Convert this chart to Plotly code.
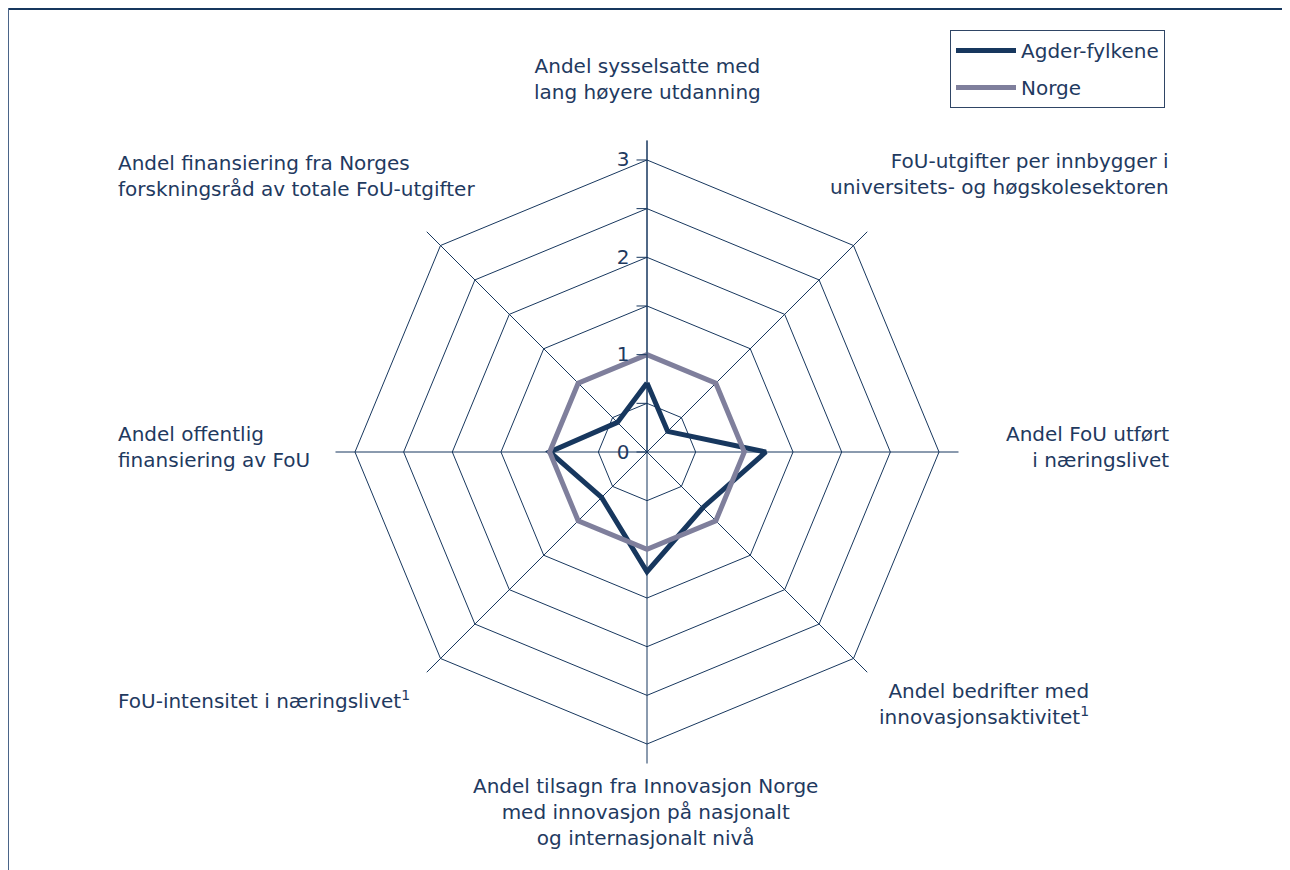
import plotly.graph_objects as go

# Indikatorer (aksene i stjernediagrammet), Norge = 1
categories = [
    "Andel sysselsatte med<br>lang høyere utdanning",
    "FoU-utgifter per innbygger i<br>universitets- og høgskolesektoren",
    "Andel FoU utført<br>i næringslivet",
    "Andel bedrifter med<br>innovasjonsaktivitet<sup>1</sup>",
    "Andel tilsagn fra Innovasjon Norge<br>med innovasjon på nasjonalt<br>og internasjonalt nivå",
    "FoU-intensitet i næringslivet<sup>1</sup>",
    "Andel offentlig<br>finansiering av FoU",
    "Andel finansiering fra Norges<br>forskningsråd av totale FoU-utgifter",
]
agder = [0.71, 0.30, 1.22, 0.81, 1.23, 0.66, 1.00, 0.43]
norge = [1, 1, 1, 1, 1, 1, 1, 1]
radial_ticks = [0, 0.5, 1, 1.5, 2, 2.5, 3]
radial_text = ["0", "", "1", "", "2", "", "3"]

NAVY = "#17375e"
GREY = "#7f7f9c"
TXT = "#1f3a5f"
FONT = "DejaVu Sans"
FS = 20

W, H = 1290, 870
OFF = 8  # siden legger inn 8 px marg rundt figuren
cx, cy, R = 647 - OFF, 452 - OFF, 311.5


def px(x):
    return (x - OFF) / W


def py(y):
    return 1 - (y - OFF) / H


fig = go.Figure()
fig.add_trace(go.Scatterpolar(
    r=agder + agder[:1], theta=categories + categories[:1],
    mode="lines", name="Agder-fylkene", legendgroup="a",
    line=dict(color=NAVY, width=5),
))
fig.add_trace(go.Scatterpolar(
    r=norge + norge[:1], theta=categories + categories[:1],
    mode="lines", name="Norge", legendgroup="n",
    line=dict(color=GREY, width=5),
))

# Aksetekster plassert rundt diagrammet (skjermkoordinater)
label_pos = [
    (647, 79, "center", "center"),
    (1171, 174, "right", "right"),
    (1171, 447, "right", "right"),
    (1091, 704, "right", "right"),
    (645, 812, "center", "center"),
    (116, 700, "left", "left"),
    (116, 447, "left", "left"),
    (116, 176, "left", "left"),
]
annotations = []
for cat, (x, y, xa, al) in zip(categories, label_pos):
    annotations.append(dict(
        x=px(x), y=py(y), xref="paper", yref="paper",
        text=cat, showarrow=False, xanchor=xa, yanchor="middle", align=al,
        font=dict(family=FONT, size=FS, color=TXT),
    ))

fig.update_layout(
    width=W, height=H,
    paper_bgcolor="white", plot_bgcolor="white",
    margin=dict(l=0, r=0, t=0, b=0),
    font=dict(family=FONT, size=FS, color=TXT),
    polar=dict(
        domain=dict(x=[(cx - R) / W, (cx + R) / W], y=[1 - (cy + R) / H, 1 - (cy - R) / H]),
        bgcolor="white",
        gridshape="linear",
        radialaxis=dict(
            range=[0, 3.2], angle=90, tickangle=90,
            tickvals=radial_ticks, ticktext=radial_text,
            showline=True, linecolor=NAVY, linewidth=1,
            gridcolor=NAVY, gridwidth=1,
            ticks="outside", ticklen=10, tickcolor=NAVY,
            side="counterclockwise",
            tickfont=dict(family=FONT, size=FS, color=TXT),
        ),
        angularaxis=dict(
            direction="clockwise", rotation=90,
            showticklabels=False, showline=False, ticks="",
            gridcolor=NAVY, gridwidth=1,
        ),
    ),
    legend=dict(
        x=px(950), y=py(30), xanchor="left", yanchor="top",
        bordercolor="#2f4565", borderwidth=1, bgcolor="white",
        font=dict(family=FONT, size=FS, color=TXT),
        tracegroupgap=8, itemwidth=60,
    ),
    annotations=annotations,
    shapes=[
        dict(type="line", xref="paper", yref="paper",
             x0=0, x1=1.0, y0=1 - 1 / H, y1=1 - 1 / H,
             line=dict(color=NAVY, width=2)),
        dict(type="line", xref="paper", yref="paper",
             x0=0.5 / W, x1=0.5 / W, y0=0, y1=1,
             line=dict(color="#4a6488", width=1)),
    ],
)

fig.write_html("out.html")
